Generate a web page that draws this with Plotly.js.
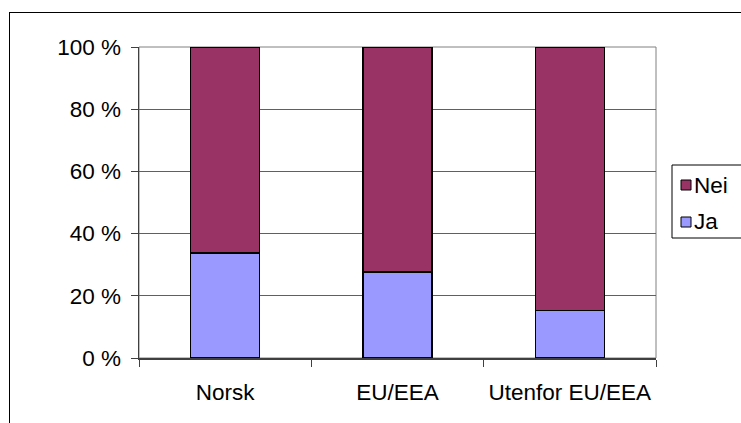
<!DOCTYPE html>
<html><head><meta charset="utf-8">
<script src="https://cdn.plot.ly/plotly-3.0.1.min.js"></script>
<style>
html,body{margin:0;padding:0;background:#fff;overflow:hidden}
#frame{position:absolute;left:9px;top:12px;width:800px;height:500px;border:1px solid #000;box-sizing:border-box}
#chart{position:absolute;left:0;top:0;width:741px;height:423px}
</style></head>
<body>
<div id="frame"></div>
<div id="chart"></div>
<script>
const categories = ["Norsk", "EU/EEA", "Utenfor EU/EEA"];
const ja = [33.8, 27.7, 15.2];
const nei = [66.2, 72.3, 84.8];
const seriesNames = ["Ja", "Nei"];
const yTickVals = [0, 20, 40, 60, 80, 100];
const yTickText = ["0 %", "20 %", "40 %", "60 %", "80 %", "100 %"];

const colors = {Ja: "#9999FF", Nei: "#993366"};
const font = {family: "Liberation Sans, Arial, sans-serif", size: 22.5, color: "#000"};

const traces = [
  {type: "bar", name: seriesNames[0], x: categories, y: ja,
   marker: {color: colors.Ja, line: {color: "#000", width: 1.5}}, showlegend: false},
  {type: "bar", name: seriesNames[1], x: categories, y: nei,
   marker: {color: colors.Nei, line: {color: "#000", width: 1.5}}, showlegend: false}
];

// manual legend (Excel style)
const L = 139, R = 656, T = 47, B = 358;
const pw = R - L, ph = B - T;
const px = v => (v - L) / pw;
const py = v => (B - v) / ph;
const legendItems = [
  {name: seriesNames[1], color: colors.Nei, cy: 185},
  {name: seriesNames[0], color: colors.Ja, cy: 222}
];
const shapes = [
  {type: "rect", xref: "paper", yref: "paper", x0: 0, x1: 1, y0: 0, y1: 1,
   line: {color: "#808080", width: 1}, layer: "below"},
  {type: "rect", xref: "paper", yref: "paper", x0: px(672), x1: px(760), y0: py(165), y1: py(238),
   line: {color: "#000", width: 1}, fillcolor: "rgba(0,0,0,0)"}
];
const annotations = [];
legendItems.forEach(it => {
  shapes.push({type: "rect", xref: "paper", yref: "paper",
    x0: px(681), x1: px(691), y0: py(it.cy - 5), y1: py(it.cy + 5),
    line: {color: "#000", width: 1}, fillcolor: it.color});
  annotations.push({xref: "paper", yref: "paper", x: px(692), y: py(it.cy),
    xanchor: "left", yanchor: "middle", text: it.name, showarrow: false,
    font: font});
});

const layout = {
  width: 741, height: 423,
  margin: {l: L, r: 741 - R, t: T, b: 423 - B, pad: 0},
  paper_bgcolor: "rgba(0,0,0,0)", plot_bgcolor: "rgba(0,0,0,0)",
  barmode: "stack", bargap: 0.6,
  showlegend: false,
  font: font,
  xaxis: {type: "category", tickson: "boundaries", ticks: "outside", ticklen: 7,
    tickcolor: "#404040", showline: true, linecolor: "#404040", linewidth: 1.5,
    showgrid: false, ticklabelstandoff: 13, tickfont: font, zeroline: false,
    fixedrange: true},
  yaxis: {range: [0, 100], tickvals: yTickVals, ticktext: yTickText,
    ticks: "outside", ticklen: 7, tickcolor: "#404040",
    showline: true, linecolor: "#404040", linewidth: 1.5,
    showgrid: true, gridcolor: "#606060", gridwidth: 1,
    zeroline: false, ticklabelstandoff: 5, tickfont: font, fixedrange: true},
  shapes: shapes,
  annotations: annotations
};

Plotly.newPlot("chart", traces, layout, {displayModeBar: false, staticPlot: true});
</script>
</body></html>
